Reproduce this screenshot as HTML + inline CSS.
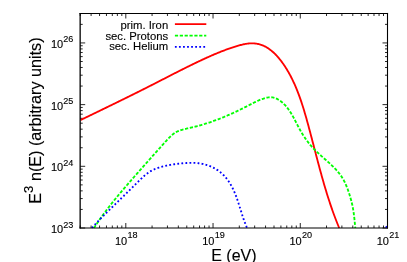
<!DOCTYPE html><html><head><meta charset="utf-8"><style>html,body{margin:0;padding:0;background:#fff}body{width:407px;height:262px;overflow:hidden}</style></head><body><svg width="407" height="262" viewBox="0 0 407 262" style="display:block;will-change:transform"><rect width="407" height="262" fill="#fff"/><path d="M80.20,228.0v-2.5 M80.20,13.5v2.5 M91.10,228.0v-2.5 M91.10,13.5v2.5 M99.55,228.0v-2.5 M99.55,13.5v2.5 M106.46,228.0v-2.5 M106.46,13.5v2.5 M112.30,228.0v-2.5 M112.30,13.5v2.5 M117.36,228.0v-2.5 M117.36,13.5v2.5 M121.82,228.0v-2.5 M121.82,13.5v2.5 M125.81,228.0v-5.0 M125.81,13.5v5.0 M152.07,228.0v-2.5 M152.07,13.5v2.5 M167.43,228.0v-2.5 M167.43,13.5v2.5 M178.33,228.0v-2.5 M178.33,13.5v2.5 M186.78,228.0v-2.5 M186.78,13.5v2.5 M193.69,228.0v-2.5 M193.69,13.5v2.5 M199.53,228.0v-2.5 M199.53,13.5v2.5 M204.59,228.0v-2.5 M204.59,13.5v2.5 M209.05,228.0v-2.5 M209.05,13.5v2.5 M213.04,228.0v-5.0 M213.04,13.5v5.0 M239.30,228.0v-2.5 M239.30,13.5v2.5 M254.66,228.0v-2.5 M254.66,13.5v2.5 M265.56,228.0v-2.5 M265.56,13.5v2.5 M274.01,228.0v-2.5 M274.01,13.5v2.5 M280.92,228.0v-2.5 M280.92,13.5v2.5 M286.76,228.0v-2.5 M286.76,13.5v2.5 M291.82,228.0v-2.5 M291.82,13.5v2.5 M296.28,228.0v-2.5 M296.28,13.5v2.5 M300.27,228.0v-5.0 M300.27,13.5v5.0 M326.53,228.0v-2.5 M326.53,13.5v2.5 M341.89,228.0v-2.5 M341.89,13.5v2.5 M352.79,228.0v-2.5 M352.79,13.5v2.5 M361.24,228.0v-2.5 M361.24,13.5v2.5 M368.15,228.0v-2.5 M368.15,13.5v2.5 M373.99,228.0v-2.5 M373.99,13.5v2.5 M379.05,228.0v-2.5 M379.05,13.5v2.5 M383.51,228.0v-2.5 M383.51,13.5v2.5 M387.50,228.0v-5.0 M387.50,13.5v5.0 M80.2,228.00h5.0 M387.5,228.00h-5.0 M80.2,209.43h2.5 M387.5,209.43h-2.5 M80.2,198.57h2.5 M387.5,198.57h-2.5 M80.2,190.86h2.5 M387.5,190.86h-2.5 M80.2,184.88h2.5 M387.5,184.88h-2.5 M80.2,180.00h2.5 M387.5,180.00h-2.5 M80.2,175.87h2.5 M387.5,175.87h-2.5 M80.2,172.29h2.5 M387.5,172.29h-2.5 M80.2,169.13h2.5 M387.5,169.13h-2.5 M80.2,166.31h5.0 M387.5,166.31h-5.0 M80.2,147.74h2.5 M387.5,147.74h-2.5 M80.2,136.88h2.5 M387.5,136.88h-2.5 M80.2,129.17h2.5 M387.5,129.17h-2.5 M80.2,123.19h2.5 M387.5,123.19h-2.5 M80.2,118.31h2.5 M387.5,118.31h-2.5 M80.2,114.18h2.5 M387.5,114.18h-2.5 M80.2,110.60h2.5 M387.5,110.60h-2.5 M80.2,107.44h2.5 M387.5,107.44h-2.5 M80.2,104.62h5.0 M387.5,104.62h-5.0 M80.2,86.05h2.5 M387.5,86.05h-2.5 M80.2,75.19h2.5 M387.5,75.19h-2.5 M80.2,67.48h2.5 M387.5,67.48h-2.5 M80.2,61.50h2.5 M387.5,61.50h-2.5 M80.2,56.62h2.5 M387.5,56.62h-2.5 M80.2,52.49h2.5 M387.5,52.49h-2.5 M80.2,48.91h2.5 M387.5,48.91h-2.5 M80.2,45.76h2.5 M387.5,45.76h-2.5 M80.2,42.93h5.0 M387.5,42.93h-5.0 M80.2,24.36h2.5 M387.5,24.36h-2.5 M80.2,13.50h2.5 M387.5,13.50h-2.5" stroke="#000" stroke-width="0.85" fill="none"/><clipPath id="c"><rect x="80.2" y="13.5" width="307.3" height="215.0"/></clipPath><g clip-path="url(#c)" fill="none" stroke-width="1.85"><path d="M80.50,120.10 L81.23,119.75 L81.95,119.40 L82.68,119.04 L83.40,118.69 L84.12,118.34 L84.85,117.99 L85.57,117.64 L86.30,117.28 L87.02,116.93 L87.75,116.58 L88.47,116.23 L89.20,115.88 L89.92,115.53 L90.65,115.17 L91.37,114.82 L92.10,114.47 L92.82,114.12 L93.54,113.77 L94.27,113.42 L94.99,113.07 L95.72,112.71 L96.44,112.36 L97.16,112.01 L97.89,111.66 L98.61,111.31 L99.34,110.96 L100.06,110.61 L100.78,110.26 L101.51,109.90 L102.23,109.55 L102.96,109.20 L103.68,108.85 L104.40,108.50 L105.13,108.15 L105.85,107.80 L106.57,107.44 L107.30,107.09 L108.02,106.74 L108.74,106.39 L109.46,106.04 L110.19,105.68 L110.91,105.33 L111.63,104.98 L112.36,104.63 L113.08,104.28 L113.80,103.92 L114.52,103.57 L115.25,103.22 L115.97,102.86 L116.69,102.51 L117.41,102.16 L118.14,101.80 L118.86,101.45 L119.58,101.10 L120.30,100.74 L121.02,100.39 L121.75,100.04 L122.47,99.68 L123.19,99.33 L123.91,98.97 L124.63,98.62 L125.35,98.26 L126.07,97.91 L126.80,97.55 L127.52,97.20 L128.24,96.84 L128.96,96.48 L129.68,96.13 L130.40,95.77 L131.12,95.41 L131.84,95.06 L132.56,94.70 L133.28,94.34 L134.00,93.98 L134.72,93.63 L135.44,93.27 L136.16,92.91 L136.88,92.55 L137.60,92.19 L138.32,91.83 L139.04,91.47 L139.76,91.11 L140.48,90.75 L141.20,90.39 L141.92,90.03 L142.64,89.67 L143.36,89.31 L144.08,88.95 L144.80,88.58 L145.52,88.22 L146.24,87.86 L146.95,87.50 L147.67,87.13 L148.39,86.77 L149.11,86.41 L149.83,86.04 L150.55,85.68 L151.26,85.31 L151.98,84.94 L152.70,84.58 L153.42,84.21 L154.13,83.85 L154.85,83.48 L155.57,83.11 L156.29,82.75 L157.00,82.38 L157.72,82.01 L158.44,81.64 L159.16,81.27 L159.87,80.91 L160.59,80.54 L161.31,80.17 L162.02,79.80 L162.74,79.43 L163.46,79.07 L164.18,78.70 L164.89,78.33 L165.61,77.96 L166.33,77.59 L167.04,77.22 L167.76,76.86 L168.48,76.49 L169.20,76.12 L169.91,75.75 L170.63,75.39 L171.35,75.02 L172.07,74.65 L172.78,74.29 L173.50,73.92 L174.22,73.55 L174.94,73.19 L175.66,72.82 L176.37,72.46 L177.09,72.09 L177.81,71.73 L178.53,71.36 L179.25,71.00 L179.97,70.64 L180.69,70.28 L181.41,69.91 L182.13,69.55 L182.84,69.19 L183.56,68.83 L184.28,68.47 L185.00,68.11 L185.72,67.75 L186.44,67.39 L187.17,67.04 L187.89,66.68 L188.61,66.32 L189.33,65.97 L190.05,65.61 L190.77,65.26 L191.49,64.91 L192.22,64.55 L192.94,64.20 L193.66,63.85 L194.38,63.50 L195.11,63.15 L195.83,62.80 L196.55,62.46 L197.28,62.11 L198.00,61.76 L198.73,61.42 L199.45,61.08 L200.18,60.73 L200.90,60.39 L201.63,60.05 L202.36,59.71 L203.08,59.38 L203.81,59.04 L204.54,58.70 L205.27,58.37 L205.99,58.04 L206.72,57.70 L207.45,57.37 L208.18,57.05 L208.92,56.72 L209.65,56.39 L210.38,56.07 L211.12,55.75 L211.85,55.43 L212.59,55.11 L213.32,54.79 L214.06,54.47 L214.80,54.16 L215.54,53.85 L216.28,53.54 L217.02,53.23 L217.76,52.93 L218.51,52.63 L219.25,52.32 L220.00,52.03 L220.74,51.73 L221.49,51.44 L222.24,51.14 L223.00,50.85 L223.75,50.57 L224.50,50.28 L225.26,50.00 L226.02,49.72 L226.78,49.45 L227.54,49.17 L228.30,48.90 L229.06,48.63 L229.83,48.37 L230.59,48.10 L231.36,47.84 L232.13,47.59 L232.91,47.33 L233.68,47.08 L234.46,46.83 L235.24,46.59 L236.02,46.35 L236.80,46.11 L237.58,45.88 L238.37,45.65 L239.16,45.42 L239.94,45.21 L240.73,45.00 L241.53,44.80 L242.32,44.61 L243.11,44.43 L243.90,44.26 L244.70,44.10 L245.49,43.95 L246.29,43.82 L247.08,43.70 L247.88,43.60 L248.67,43.51 L249.46,43.44 L250.26,43.39 L251.05,43.36 L251.84,43.35 L252.63,43.35 L253.42,43.38 L254.21,43.43 L254.99,43.50 L255.78,43.59 L256.56,43.70 L257.33,43.84 L258.10,43.99 L258.87,44.16 L259.62,44.36 L260.38,44.58 L261.12,44.81 L261.86,45.07 L262.59,45.35 L263.31,45.65 L264.03,45.97 L264.74,46.31 L265.43,46.67 L266.13,47.05 L266.81,47.44 L267.48,47.85 L268.15,48.28 L268.81,48.73 L269.46,49.19 L270.11,49.66 L270.74,50.15 L271.37,50.65 L271.99,51.17 L272.61,51.70 L273.22,52.24 L273.81,52.79 L274.41,53.35 L274.99,53.93 L275.57,54.51 L276.14,55.11 L276.70,55.71 L277.25,56.32 L277.80,56.94 L278.34,57.56 L278.88,58.19 L279.40,58.83 L279.92,59.48 L280.43,60.12 L280.94,60.78 L281.44,61.43 L281.93,62.09 L282.41,62.76 L282.89,63.42 L283.36,64.09 L283.83,64.76 L284.29,65.43 L284.74,66.11 L285.18,66.79 L285.62,67.47 L286.06,68.15 L286.48,68.83 L286.91,69.52 L287.32,70.21 L287.73,70.91 L288.14,71.60 L288.54,72.30 L288.93,73.00 L289.33,73.70 L289.71,74.40 L290.09,75.11 L290.47,75.81 L290.84,76.52 L291.20,77.24 L291.57,77.95 L291.93,78.66 L292.28,79.38 L292.63,80.10 L292.98,80.82 L293.32,81.55 L293.66,82.27 L293.99,83.00 L294.32,83.73 L294.65,84.46 L294.97,85.19 L295.29,85.92 L295.61,86.66 L295.92,87.39 L296.23,88.13 L296.53,88.87 L296.84,89.61 L297.13,90.35 L297.43,91.10 L297.72,91.84 L298.01,92.59 L298.30,93.34 L298.58,94.09 L298.86,94.84 L299.14,95.59 L299.42,96.34 L299.69,97.10 L299.96,97.85 L300.22,98.61 L300.49,99.37 L300.75,100.13 L301.01,100.89 L301.27,101.65 L301.52,102.41 L301.77,103.17 L302.02,103.94 L302.27,104.70 L302.52,105.47 L302.76,106.23 L303.00,107.00 L303.24,107.77 L303.48,108.54 L303.71,109.31 L303.95,110.08 L304.18,110.85 L304.41,111.62 L304.64,112.39 L304.87,113.16 L305.10,113.94 L305.32,114.71 L305.54,115.49 L305.77,116.26 L305.99,117.04 L306.21,117.81 L306.43,118.59 L306.64,119.36 L306.86,120.14 L307.08,120.92 L307.29,121.70 L307.51,122.47 L307.72,123.25 L307.93,124.03 L308.14,124.81 L308.35,125.59 L308.57,126.36 L308.78,127.14 L308.99,127.92 L309.19,128.70 L309.40,129.48 L309.61,130.26 L309.82,131.04 L310.03,131.82 L310.23,132.60 L310.44,133.37 L310.65,134.15 L310.85,134.93 L311.06,135.71 L311.26,136.49 L311.47,137.27 L311.67,138.05 L311.88,138.83 L312.08,139.61 L312.29,140.39 L312.49,141.17 L312.69,141.95 L312.90,142.73 L313.10,143.51 L313.30,144.29 L313.51,145.07 L313.71,145.85 L313.91,146.63 L314.11,147.40 L314.32,148.18 L314.52,148.96 L314.72,149.74 L314.93,150.52 L315.13,151.30 L315.33,152.08 L315.54,152.86 L315.74,153.64 L315.94,154.42 L316.15,155.20 L316.35,155.97 L316.56,156.75 L316.76,157.53 L316.97,158.31 L317.17,159.09 L317.38,159.87 L317.58,160.64 L317.79,161.42 L317.99,162.20 L318.20,162.98 L318.41,163.76 L318.61,164.53 L318.82,165.31 L319.03,166.09 L319.24,166.86 L319.45,167.64 L319.66,168.42 L319.87,169.19 L320.08,169.97 L320.29,170.75 L320.50,171.52 L320.71,172.30 L320.93,173.07 L321.14,173.85 L321.36,174.62 L321.57,175.40 L321.79,176.17 L322.00,176.95 L322.22,177.72 L322.44,178.49 L322.66,179.27 L322.88,180.04 L323.10,180.81 L323.32,181.59 L323.54,182.36 L323.76,183.13 L323.99,183.90 L324.21,184.67 L324.44,185.44 L324.67,186.22 L324.89,186.99 L325.12,187.76 L325.35,188.53 L325.58,189.30 L325.82,190.07 L326.05,190.83 L326.28,191.60 L326.52,192.37 L326.75,193.14 L326.99,193.91 L327.23,194.67 L327.47,195.44 L327.71,196.21 L327.95,196.97 L328.20,197.74 L328.44,198.51 L328.69,199.27 L328.94,200.04 L329.19,200.80 L329.44,201.56 L329.69,202.33 L329.94,203.09 L330.20,203.85 L330.45,204.61 L330.71,205.38 L330.97,206.14 L331.23,206.90 L331.49,207.66 L331.75,208.42 L332.02,209.18 L332.28,209.94 L332.55,210.70 L332.82,211.45 L333.09,212.21 L333.37,212.97 L333.64,213.73 L333.92,214.48 L334.20,215.24 L334.48,215.99 L334.76,216.75 L335.04,217.50 L335.33,218.25 L335.61,219.01 L335.90,219.76 L336.19,220.51 L336.48,221.26 L336.78,222.01 L337.08,222.76 L337.37,223.51 L337.67,224.26 L337.98,225.01 L338.28,225.76 L338.59,226.51 L338.89,227.25 L339.20,228.00" stroke="#f00"/><path d="M94.00,228.00 L94.42,227.34 L94.85,226.68 L95.27,226.03 L95.70,225.37 L96.13,224.72 L96.56,224.07 L97.00,223.42 L97.43,222.77 L97.87,222.12 L98.31,221.47 L98.75,220.83 L99.20,220.18 L99.64,219.54 L100.09,218.90 L100.54,218.26 L100.99,217.62 L101.44,216.99 L101.90,216.35 L102.36,215.72 L102.81,215.08 L103.27,214.45 L103.74,213.82 L104.20,213.19 L104.66,212.56 L105.13,211.94 L105.60,211.31 L106.07,210.69 L106.54,210.06 L107.01,209.44 L107.49,208.82 L107.96,208.20 L108.44,207.58 L108.92,206.96 L109.40,206.34 L109.88,205.73 L110.36,205.11 L110.84,204.50 L111.33,203.88 L111.81,203.27 L112.30,202.66 L112.79,202.05 L113.28,201.44 L113.77,200.83 L114.26,200.22 L114.76,199.61 L115.25,199.01 L115.75,198.40 L116.24,197.80 L116.74,197.19 L117.24,196.59 L117.74,195.99 L118.24,195.38 L118.74,194.78 L119.24,194.18 L119.74,193.58 L120.24,192.98 L120.75,192.39 L121.25,191.79 L121.76,191.19 L122.26,190.59 L122.77,190.00 L123.28,189.40 L123.79,188.81 L124.30,188.21 L124.81,187.62 L125.32,187.03 L125.83,186.43 L126.34,185.84 L126.85,185.25 L127.36,184.66 L127.87,184.07 L128.39,183.48 L128.90,182.89 L129.41,182.30 L129.93,181.71 L130.44,181.12 L130.96,180.53 L131.47,179.94 L131.99,179.35 L132.50,178.76 L133.02,178.17 L133.53,177.59 L134.05,177.00 L134.57,176.41 L135.08,175.83 L135.60,175.24 L136.11,174.65 L136.63,174.07 L137.15,173.48 L137.66,172.89 L138.18,172.31 L138.70,171.72 L139.21,171.13 L139.73,170.55 L140.24,169.96 L140.76,169.38 L141.28,168.79 L141.79,168.21 L142.31,167.62 L142.83,167.04 L143.34,166.45 L143.86,165.87 L144.38,165.28 L144.89,164.70 L145.41,164.11 L145.93,163.53 L146.45,162.94 L146.96,162.36 L147.48,161.77 L148.00,161.19 L148.52,160.60 L149.03,160.02 L149.55,159.44 L150.07,158.85 L150.59,158.27 L151.11,157.69 L151.63,157.10 L152.15,156.52 L152.67,155.93 L153.19,155.35 L153.71,154.77 L154.23,154.18 L154.75,153.60 L155.27,153.02 L155.79,152.44 L156.32,151.85 L156.84,151.27 L157.36,150.69 L157.88,150.10 L158.41,149.52 L158.93,148.94 L159.46,148.36 L159.98,147.77 L160.50,147.19 L161.03,146.61 L161.56,146.03 L162.08,145.45 L162.61,144.86 L163.14,144.28 L163.66,143.70 L164.19,143.12 L164.72,142.54 L165.25,141.95 L165.78,141.37 L166.31,140.79 L166.84,140.21 L167.37,139.63 L167.91,139.05 L168.45,138.48 L168.99,137.92 L169.54,137.36 L170.09,136.81 L170.65,136.27 L171.22,135.75 L171.80,135.23 L172.38,134.73 L172.98,134.24 L173.59,133.77 L174.21,133.32 L174.84,132.89 L175.49,132.48 L176.15,132.09 L176.82,131.73 L177.51,131.39 L178.22,131.07 L178.94,130.78 L179.67,130.50 L180.42,130.25 L181.17,130.01 L181.93,129.79 L182.70,129.57 L183.47,129.37 L184.24,129.18 L185.01,128.99 L185.78,128.81 L186.55,128.63 L187.32,128.46 L188.09,128.29 L188.86,128.12 L189.63,127.94 L190.40,127.77 L191.17,127.60 L191.93,127.43 L192.70,127.25 L193.46,127.07 L194.22,126.88 L194.99,126.69 L195.75,126.50 L196.50,126.31 L197.26,126.11 L198.02,125.91 L198.77,125.70 L199.52,125.50 L200.28,125.29 L201.03,125.07 L201.78,124.85 L202.53,124.63 L203.28,124.41 L204.02,124.18 L204.77,123.96 L205.51,123.72 L206.26,123.49 L207.00,123.25 L207.74,123.01 L208.48,122.77 L209.22,122.52 L209.96,122.27 L210.69,122.02 L211.43,121.76 L212.17,121.51 L212.90,121.25 L213.63,120.98 L214.37,120.72 L215.10,120.45 L215.83,120.18 L216.56,119.90 L217.29,119.63 L218.01,119.35 L218.74,119.07 L219.47,118.79 L220.19,118.50 L220.92,118.21 L221.64,117.92 L222.36,117.63 L223.09,117.33 L223.81,117.04 L224.53,116.74 L225.25,116.44 L225.97,116.13 L226.68,115.82 L227.40,115.52 L228.12,115.21 L228.83,114.89 L229.55,114.58 L230.26,114.26 L230.98,113.94 L231.69,113.62 L232.40,113.30 L233.12,112.97 L233.83,112.65 L234.54,112.32 L235.25,111.99 L235.96,111.66 L236.67,111.32 L237.37,110.99 L238.08,110.65 L238.79,110.31 L239.50,109.97 L240.20,109.63 L240.91,109.28 L241.61,108.94 L242.32,108.59 L243.02,108.24 L243.73,107.89 L244.43,107.54 L245.13,107.18 L245.84,106.83 L246.54,106.47 L247.24,106.12 L247.94,105.76 L248.64,105.40 L249.34,105.03 L250.04,104.67 L250.74,104.31 L251.44,103.94 L252.14,103.58 L252.84,103.22 L253.54,102.86 L254.25,102.50 L254.95,102.14 L255.66,101.80 L256.37,101.45 L257.08,101.12 L257.79,100.79 L258.50,100.47 L259.22,100.15 L259.95,99.85 L260.67,99.56 L261.40,99.28 L262.14,99.01 L262.88,98.76 L263.62,98.52 L264.37,98.29 L265.13,98.09 L265.89,97.89 L266.65,97.72 L267.43,97.56 L268.20,97.44 L268.98,97.34 L269.75,97.28 L270.52,97.25 L271.29,97.28 L272.05,97.34 L272.80,97.46 L273.54,97.61 L274.28,97.81 L275.01,98.04 L275.72,98.31 L276.43,98.61 L277.13,98.95 L277.82,99.31 L278.49,99.70 L279.16,100.11 L279.81,100.55 L280.45,101.01 L281.08,101.48 L281.69,101.97 L282.29,102.47 L282.87,102.99 L283.44,103.51 L284.00,104.05 L284.55,104.60 L285.08,105.16 L285.60,105.73 L286.11,106.31 L286.61,106.90 L287.10,107.50 L287.57,108.11 L288.04,108.73 L288.50,109.36 L288.95,109.99 L289.39,110.63 L289.83,111.28 L290.25,111.93 L290.67,112.59 L291.09,113.26 L291.49,113.93 L291.89,114.61 L292.29,115.29 L292.68,115.98 L293.06,116.67 L293.44,117.36 L293.82,118.06 L294.20,118.76 L294.57,119.46 L294.94,120.16 L295.30,120.87 L295.67,121.58 L296.04,122.28 L296.40,122.99 L296.76,123.70 L297.13,124.41 L297.49,125.12 L297.86,125.82 L298.23,126.53 L298.60,127.23 L298.97,127.93 L299.34,128.63 L299.72,129.32 L300.10,130.01 L300.49,130.70 L300.88,131.39 L301.27,132.07 L301.67,132.74 L302.07,133.41 L302.48,134.08 L302.89,134.75 L303.31,135.41 L303.73,136.06 L304.16,136.71 L304.59,137.36 L305.02,138.00 L305.47,138.64 L305.91,139.28 L306.36,139.91 L306.82,140.54 L307.28,141.16 L307.75,141.77 L308.22,142.39 L308.70,143.00 L309.19,143.60 L309.68,144.20 L310.17,144.80 L310.67,145.39 L311.18,145.97 L311.69,146.55 L312.21,147.13 L312.74,147.70 L313.27,148.27 L313.81,148.83 L314.35,149.39 L314.90,149.94 L315.45,150.49 L316.01,151.04 L316.57,151.58 L317.14,152.12 L317.71,152.66 L318.28,153.20 L318.86,153.73 L319.44,154.26 L320.02,154.79 L320.60,155.31 L321.19,155.84 L321.78,156.36 L322.37,156.88 L322.96,157.41 L323.55,157.93 L324.14,158.45 L324.73,158.97 L325.32,159.49 L325.91,160.01 L326.50,160.53 L327.09,161.06 L327.68,161.58 L328.26,162.11 L328.85,162.63 L329.43,163.16 L330.00,163.69 L330.58,164.23 L331.15,164.76 L331.72,165.30 L332.28,165.84 L332.84,166.39 L333.40,166.94 L333.95,167.49 L334.49,168.04 L335.03,168.60 L335.56,169.17 L336.09,169.74 L336.61,170.31 L337.12,170.89 L337.63,171.48 L338.13,172.07 L338.62,172.67 L339.10,173.27 L339.58,173.88 L340.04,174.49 L340.50,175.12 L340.95,175.74 L341.39,176.38 L341.81,177.03 L342.23,177.68 L342.64,178.34 L343.04,179.01 L343.42,179.68 L343.80,180.37 L344.16,181.06 L344.52,181.76 L344.87,182.46 L345.20,183.17 L345.53,183.88 L345.85,184.60 L346.17,185.33 L346.47,186.06 L346.77,186.79 L347.06,187.53 L347.34,188.27 L347.62,189.01 L347.89,189.75 L348.15,190.50 L348.41,191.25 L348.66,192.00 L348.91,192.75 L349.15,193.50 L349.39,194.25 L349.62,195.00 L349.85,195.74 L350.08,196.49 L350.30,197.24 L350.51,197.98 L350.73,198.73 L350.93,199.48 L351.14,200.23 L351.33,200.97 L351.53,201.72 L351.71,202.48 L351.89,203.23 L352.07,203.98 L352.24,204.74 L352.40,205.50 L352.56,206.26 L352.71,207.03 L352.85,207.80 L352.99,208.57 L353.12,209.34 L353.25,210.11 L353.37,210.88 L353.49,211.66 L353.61,212.44 L353.72,213.22 L353.82,213.99 L353.92,214.77 L354.02,215.56 L354.12,216.34 L354.21,217.12 L354.30,217.90 L354.39,218.68 L354.47,219.46 L354.55,220.24 L354.63,221.02 L354.71,221.80 L354.79,222.58 L354.86,223.36 L354.94,224.14 L355.01,224.91 L355.08,225.69 L355.16,226.46 L355.23,227.23 L355.30,228.00" stroke="#0f0" stroke-dasharray="3.2 1.66"/><path d="M92.00,228.00 L92.29,227.67 L92.57,227.34 L92.86,227.02 L93.15,226.69 L93.44,226.36 L93.73,226.04 L94.02,225.71 L94.31,225.39 L94.60,225.07 L94.89,224.74 L95.19,224.42 L95.48,224.10 L95.78,223.78 L96.07,223.46 L96.37,223.14 L96.66,222.82 L96.96,222.50 L97.26,222.18 L97.56,221.86 L97.85,221.54 L98.15,221.23 L98.45,220.91 L98.75,220.59 L99.05,220.28 L99.35,219.96 L99.66,219.65 L99.96,219.33 L100.26,219.02 L100.56,218.71 L100.87,218.39 L101.17,218.08 L101.48,217.77 L101.78,217.46 L102.09,217.14 L102.39,216.83 L102.70,216.52 L103.01,216.21 L103.31,215.90 L103.62,215.59 L103.93,215.28 L104.23,214.97 L104.54,214.66 L104.85,214.36 L105.16,214.05 L105.47,213.74 L105.78,213.43 L106.09,213.12 L106.40,212.82 L106.71,212.51 L107.02,212.20 L107.33,211.90 L107.64,211.59 L107.95,211.29 L108.26,210.98 L108.57,210.67 L108.88,210.37 L109.20,210.06 L109.51,209.76 L109.82,209.45 L110.13,209.15 L110.44,208.84 L110.75,208.54 L111.07,208.24 L111.38,207.93 L111.69,207.63 L112.00,207.32 L112.32,207.02 L112.63,206.72 L112.94,206.41 L113.25,206.11 L113.57,205.80 L113.88,205.50 L114.19,205.20 L114.50,204.89 L114.82,204.59 L115.13,204.29 L115.44,203.98 L115.75,203.68 L116.06,203.38 L116.38,203.07 L116.69,202.77 L117.00,202.47 L117.31,202.17 L117.62,201.86 L117.93,201.56 L118.25,201.26 L118.56,200.95 L118.87,200.65 L119.18,200.35 L119.49,200.04 L119.80,199.74 L120.12,199.44 L120.43,199.13 L120.74,198.83 L121.05,198.53 L121.36,198.22 L121.67,197.92 L121.98,197.61 L122.29,197.31 L122.60,197.01 L122.92,196.70 L123.23,196.40 L123.54,196.10 L123.85,195.79 L124.16,195.49 L124.47,195.18 L124.78,194.88 L125.09,194.58 L125.40,194.27 L125.71,193.97 L126.02,193.66 L126.34,193.36 L126.65,193.05 L126.96,192.75 L127.27,192.44 L127.58,192.14 L127.89,191.83 L128.20,191.53 L128.51,191.22 L128.82,190.92 L129.13,190.61 L129.44,190.31 L129.75,190.00 L130.06,189.69 L130.37,189.39 L130.69,189.08 L131.00,188.78 L131.31,188.47 L131.62,188.16 L131.93,187.86 L132.24,187.55 L132.55,187.24 L132.86,186.94 L133.17,186.63 L133.48,186.32 L133.79,186.01 L134.10,185.70 L134.42,185.40 L134.73,185.09 L135.04,184.78 L135.35,184.47 L135.66,184.16 L135.97,183.85 L136.28,183.54 L136.59,183.23 L136.90,182.93 L137.21,182.62 L137.53,182.31 L137.84,182.00 L138.15,181.68 L138.46,181.37 L138.77,181.07 L139.08,180.76 L139.40,180.45 L139.71,180.14 L140.02,179.83 L140.34,179.52 L140.65,179.22 L140.97,178.91 L141.29,178.61 L141.61,178.31 L141.92,178.01 L142.24,177.71 L142.56,177.41 L142.89,177.12 L143.21,176.82 L143.53,176.53 L143.86,176.24 L144.19,175.96 L144.52,175.67 L144.85,175.39 L145.18,175.11 L145.51,174.83 L145.85,174.56 L146.19,174.29 L146.53,174.02 L146.87,173.76 L147.21,173.50 L147.56,173.24 L147.91,172.99 L148.26,172.74 L148.61,172.49 L148.96,172.25 L149.32,172.01 L149.68,171.78 L150.04,171.55 L150.41,171.32 L150.78,171.10 L151.15,170.89 L151.52,170.68 L151.90,170.47 L152.28,170.27 L152.66,170.07 L153.05,169.88 L153.44,169.70 L153.83,169.52 L154.22,169.34 L154.62,169.17 L155.01,169.00 L155.41,168.84 L155.82,168.68 L156.22,168.52 L156.63,168.37 L157.04,168.22 L157.44,168.07 L157.86,167.93 L158.27,167.79 L158.68,167.66 L159.10,167.52 L159.51,167.39 L159.93,167.27 L160.34,167.14 L160.76,167.02 L161.18,166.90 L161.60,166.78 L162.02,166.67 L162.44,166.56 L162.86,166.45 L163.28,166.34 L163.71,166.23 L164.13,166.13 L164.55,166.03 L164.98,165.93 L165.40,165.83 L165.83,165.74 L166.26,165.64 L166.68,165.55 L167.11,165.47 L167.54,165.38 L167.97,165.29 L168.40,165.21 L168.83,165.13 L169.26,165.05 L169.69,164.97 L170.12,164.90 L170.55,164.82 L170.98,164.75 L171.41,164.68 L171.85,164.61 L172.28,164.54 L172.71,164.48 L173.15,164.41 L173.58,164.35 L174.01,164.29 L174.45,164.23 L174.88,164.17 L175.32,164.11 L175.75,164.05 L176.19,164.00 L176.62,163.94 L177.06,163.89 L177.49,163.84 L177.93,163.79 L178.37,163.74 L178.80,163.69 L179.24,163.64 L179.67,163.59 L180.11,163.55 L180.55,163.50 L180.98,163.46 L181.42,163.41 L181.86,163.37 L182.29,163.33 L182.73,163.29 L183.17,163.25 L183.60,163.21 L184.04,163.18 L184.48,163.14 L184.91,163.11 L185.35,163.08 L185.78,163.05 L186.22,163.02 L186.66,162.99 L187.09,162.97 L187.53,162.95 L187.96,162.93 L188.40,162.91 L188.83,162.89 L189.27,162.88 L189.71,162.86 L190.14,162.86 L190.58,162.85 L191.01,162.84 L191.44,162.84 L191.88,162.84 L192.31,162.85 L192.75,162.85 L193.18,162.86 L193.61,162.87 L194.05,162.89 L194.48,162.91 L194.91,162.93 L195.34,162.95 L195.77,162.98 L196.21,163.01 L196.64,163.04 L197.07,163.08 L197.50,163.12 L197.93,163.17 L198.36,163.22 L198.79,163.27 L199.22,163.32 L199.65,163.38 L200.08,163.45 L200.50,163.52 L200.93,163.59 L201.36,163.66 L201.78,163.74 L202.21,163.83 L202.64,163.92 L203.06,164.01 L203.49,164.11 L203.91,164.21 L204.33,164.31 L204.76,164.42 L205.18,164.54 L205.60,164.66 L206.02,164.78 L206.44,164.90 L206.86,165.04 L207.27,165.17 L207.69,165.31 L208.10,165.45 L208.51,165.60 L208.93,165.75 L209.34,165.91 L209.74,166.07 L210.15,166.23 L210.56,166.40 L210.96,166.57 L211.36,166.75 L211.76,166.93 L212.16,167.11 L212.56,167.30 L212.95,167.49 L213.34,167.68 L213.73,167.88 L214.12,168.09 L214.50,168.30 L214.89,168.51 L215.27,168.72 L215.65,168.94 L216.02,169.17 L216.39,169.39 L216.76,169.62 L217.13,169.86 L217.50,170.10 L217.86,170.34 L218.22,170.59 L218.58,170.84 L218.93,171.09 L219.28,171.35 L219.63,171.61 L219.97,171.87 L220.31,172.14 L220.65,172.41 L220.98,172.69 L221.31,172.97 L221.64,173.25 L221.96,173.54 L222.28,173.83 L222.60,174.13 L222.91,174.42 L223.22,174.73 L223.53,175.03 L223.83,175.34 L224.13,175.65 L224.42,175.97 L224.72,176.28 L225.00,176.60 L225.29,176.93 L225.57,177.26 L225.85,177.59 L226.13,177.92 L226.40,178.26 L226.67,178.60 L226.93,178.94 L227.19,179.28 L227.45,179.63 L227.71,179.98 L227.96,180.33 L228.21,180.69 L228.46,181.05 L228.71,181.41 L228.95,181.77 L229.19,182.14 L229.42,182.50 L229.66,182.87 L229.89,183.24 L230.11,183.62 L230.34,183.99 L230.56,184.37 L230.78,184.75 L231.00,185.13 L231.21,185.51 L231.42,185.90 L231.63,186.28 L231.84,186.67 L232.05,187.06 L232.25,187.45 L232.45,187.85 L232.64,188.24 L232.84,188.64 L233.03,189.03 L233.22,189.43 L233.41,189.83 L233.60,190.23 L233.78,190.63 L233.96,191.04 L234.14,191.44 L234.32,191.85 L234.49,192.25 L234.67,192.66 L234.84,193.06 L235.01,193.47 L235.18,193.88 L235.34,194.29 L235.51,194.70 L235.67,195.11 L235.83,195.52 L235.99,195.93 L236.14,196.34 L236.30,196.75 L236.45,197.17 L236.60,197.58 L236.75,197.99 L236.90,198.40 L237.05,198.82 L237.20,199.23 L237.34,199.64 L237.48,200.05 L237.62,200.46 L237.76,200.88 L237.90,201.29 L238.04,201.70 L238.18,202.11 L238.31,202.52 L238.45,202.93 L238.58,203.35 L238.72,203.76 L238.85,204.17 L238.98,204.58 L239.11,204.99 L239.24,205.40 L239.37,205.81 L239.50,206.22 L239.63,206.64 L239.75,207.05 L239.88,207.46 L240.01,207.87 L240.14,208.28 L240.26,208.69 L240.39,209.10 L240.52,209.51 L240.64,209.92 L240.77,210.33 L240.90,210.74 L241.02,211.15 L241.15,211.56 L241.28,211.98 L241.41,212.39 L241.54,212.80 L241.66,213.21 L241.79,213.62 L241.92,214.03 L242.05,214.44 L242.19,214.85 L242.32,215.26 L242.45,215.67 L242.58,216.08 L242.72,216.49 L242.85,216.90 L242.99,217.31 L243.13,217.72 L243.27,218.13 L243.41,218.55 L243.55,218.96 L243.69,219.37 L243.84,219.78 L243.98,220.19 L244.13,220.60 L244.28,221.01 L244.43,221.42 L244.58,221.83 L244.73,222.24 L244.89,222.65 L245.05,223.06 L245.21,223.48 L245.37,223.89 L245.53,224.30 L245.70,224.71 L245.86,225.12 L246.03,225.53 L246.20,225.94 L246.38,226.35 L246.56,226.77 L246.73,227.18 L246.92,227.59 L247.10,228.00" stroke="#00f" stroke-dasharray="1.8 2.26"/></g><path d="M385.7,227.6L387.0,226.3" stroke="#00f" stroke-width="1.6" fill="none"/><g fill="none" stroke-width="1.85"><path d="M174.9,24.15H206.3" stroke="#f00"/><path d="M174.9,35.6H206.3" stroke="#0f0" stroke-dasharray="3.2 1.66"/><path d="M174.9,46.8H206.3" stroke="#00f" stroke-dasharray="1.8 2.26"/></g><g stroke="#000" fill="none"><path d="M80.15,12.95V228.55" stroke-width="1.3"/><path d="M387.5,12.95V228.55" stroke-width="1.1"/><path d="M79.5,13.5H388.05" stroke-width="1.1"/><path d="M79.5,228.0H388.05" stroke-width="1.1"/></g><g font-family="Liberation Sans, sans-serif" fill="#000" stroke="#000" stroke-width="0.12"><g font-size="11.3" text-anchor="end"><text x="168.2" y="28.5">prim. Iron</text><text x="168.2" y="39.5">sec. Protons</text><text x="168.2" y="50.45">sec. Helium</text></g><text font-size="11" x="63.2" y="232.90" text-anchor="end">10</text><text font-size="9.1" x="63.3" y="227.50">23</text><text font-size="11" x="63.2" y="171.21" text-anchor="end">10</text><text font-size="9.1" x="63.3" y="165.81">24</text><text font-size="11" x="63.2" y="109.52" text-anchor="end">10</text><text font-size="9.1" x="63.3" y="104.12">25</text><text font-size="11" x="63.2" y="47.83" text-anchor="end">10</text><text font-size="9.1" x="63.3" y="42.43">26</text><text font-size="11" x="127.21" y="244.5" text-anchor="end">10</text><text font-size="9.1" x="127.46" y="238.2">18</text><text font-size="11" x="214.44" y="244.5" text-anchor="end">10</text><text font-size="9.1" x="214.69" y="238.2">19</text><text font-size="11" x="301.67" y="244.5" text-anchor="end">10</text><text font-size="9.1" x="301.92" y="238.2">20</text><text font-size="11" x="388.90" y="244.5" text-anchor="end">10</text><text font-size="9.1" x="389.15" y="238.2">21</text><text font-size="15.9" transform="translate(233.9,261.4) scale(1.008,1)" text-anchor="middle">E (eV)</text><text font-size="15.9" transform="translate(40.5,203.7) rotate(-90) scale(1.017,1)">E<tspan font-size="13" dy="-7.2">3</tspan><tspan dy="7.2"> n(E) (arbitrary units)</tspan></text></g></svg></body></html>
